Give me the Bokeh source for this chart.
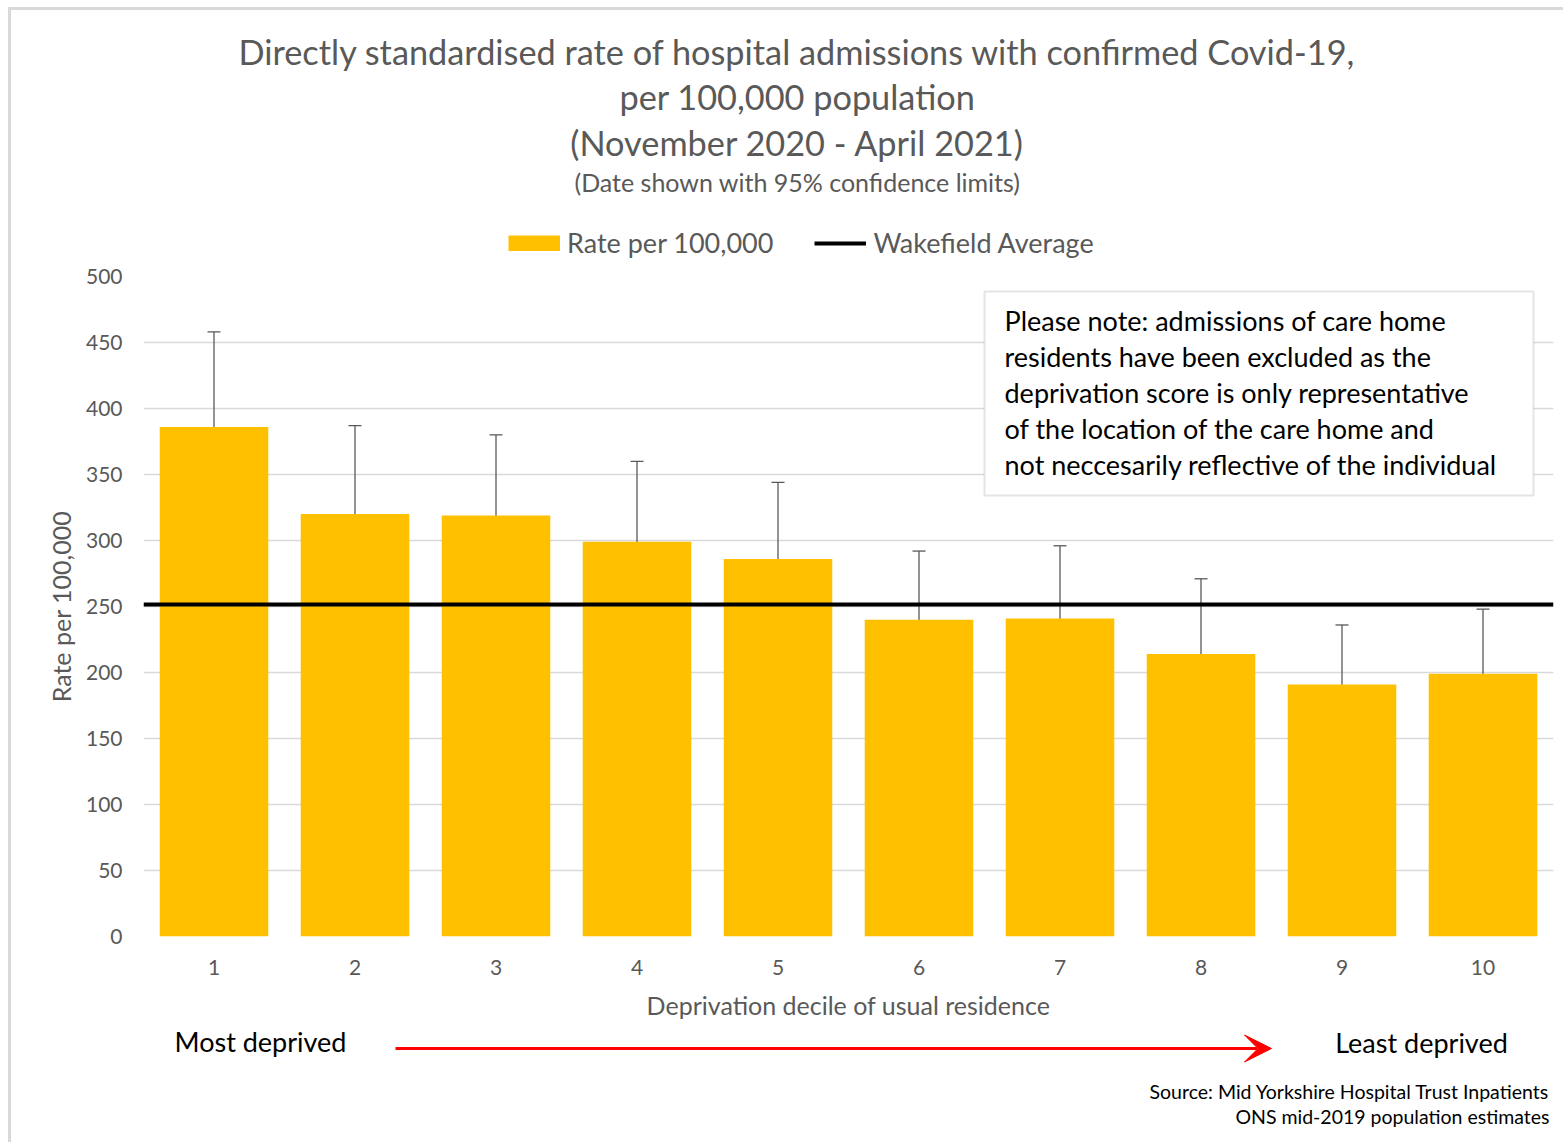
from bokeh.plotting import figure
from bokeh.layouts import column
from bokeh.models import (Range1d, FixedTicker, ColumnDataSource, Whisker, TeeHead,
                          BoxAnnotation, Label, Arrow, VeeHead, Legend, LegendItem)
from bokeh.embed import file_html
from bokeh.resources import INLINE

# ---------------- data ----------------
DECILES = [1, 2, 3, 4, 5, 6, 7, 8, 9, 10]
RATES = [386, 320, 319, 299, 286, 240, 241, 214, 191, 199]
UPPER_CL = [458, 387, 380, 360, 344, 292, 296, 271, 236, 248]
LOWER_CL = [323, 261, 264, 247, 235, 195, 195, 167, 154, 157]
WAKEFIELD_AVG = 251.5
Y_TICKS = [0, 50, 100, 150, 200, 250, 300, 350, 400, 450, 500]

TITLE_LINES = [
    "Directly standardised rate of hospital admissions with confirmed Covid-19,",
    "per 100,000 population",
    "(November 2020 - April 2021)",
    "(Date shown with 95% confidence limits)",
]
NOTE_LINES = [
    "Please note: admissions of care home",
    "residents have been excluded as the",
    "deprivation score is only representative",
    "of the location of the care home and",
    "not neccesarily reflective of the individual",
]
X_LABEL = "Deprivation decile of usual residence"
Y_LABEL = "Rate per 100,000"
LEGEND_LABELS = ["Rate per 100,000", "Wakefield Average"]
LEFT_NOTE = "Most deprived"
RIGHT_NOTE = "Least deprived"
SOURCE_LINES = ["Source: Mid Yorkshire Hospital Trust Inpatients",
                "ONS mid-2019 population estimates"]

# ---------------- style ----------------
FONT = "Lato"
GREY = "#595959"
BAR = "#FFC000"
GRID = "#d9d9d9"

# page-pixel layout
OX, OY = 11, 10                 # content origin (margin + 3px border)
W = 1552
FL, FR, FT, FB = 143, 1553, 276, 936   # plotting frame on the page
X0, X1, Y0, Y1 = 0.5, 10.5, 0, 500
HEAD_BOTTOM = 262
MAIN_BOTTOM = 1023
PAGE_BOTTOM = 1142
HH = HEAD_BOTTOM - OY
HM = MAIN_BOTTOM - HEAD_BOTTOM
HF = PAGE_BOTTOM - MAIN_BOTTOM
NAN = float("nan")


def dx(px):
    return X0 + (px - FL) / (FR - FL) * (X1 - X0)


def dy(py):
    return Y0 + (FB - py) / (FB - FT) * (Y1 - Y0)


def blank(height):
    f = figure(width=W, height=height, output_backend="svg", toolbar_location=None,
               x_range=Range1d(0, W), y_range=Range1d(height, 0),
               x_axis_location=None, y_axis_location=None, min_border=0,
               background_fill_color="white", border_fill_color="white")
    f.grid.visible = False
    f.outline_line_color = None
    f.frame_align = False
    return f


# ---------------- header: titles + legend ----------------
head = blank(HH)
title_specs = [(51, "34.3px"), (96, "34.3px"), (142, "34.3px"), (181, "25px")]
for line, (py, fs) in zip(TITLE_LINES, title_specs):
    head.add_layout(Label(x=797 - OX, y=py - OY, text=line, text_align="center",
                          text_baseline="middle", text_font=FONT,
                          text_font_size=fs, text_color=GREY))

# legend swatches (proxy renderers without visible data)
proxy_bar = head.line(x=[NAN, NAN], y=[NAN, NAN], line_color=BAR, line_width=16,
                      line_cap="butt")
proxy_line = head.line(x=[NAN, NAN], y=[NAN, NAN], line_color="black", line_width=4)
legend = Legend(items=[LegendItem(label=LEGEND_LABELS[0], renderers=[proxy_bar]),
                       LegendItem(label=LEGEND_LABELS[1], renderers=[proxy_line])],
                orientation="horizontal", location=(508 - OX, HEAD_BOTTOM - 259),
                label_text_font=FONT, label_text_font_size="27px",
                label_text_color=GREY, glyph_width=52, glyph_height=16,
                label_standoff=7, spacing=41, padding=0, margin=0,
                border_line_color=None, background_fill_alpha=0)
head.add_layout(legend, "center")

# ---------------- main chart ----------------
p = figure(width=W, height=HM, output_backend="svg", toolbar_location=None,
           x_range=Range1d(X0, X1), y_range=Range1d(Y0, Y1),
           min_border_left=FL - OX, min_border_top=FT - HEAD_BOTTOM,
           min_border_right=OX + W - FR, min_border_bottom=MAIN_BOTTOM - FB,
           background_fill_color="white", border_fill_color="white")
p.outline_line_color = None
p.frame_align = False

src = ColumnDataSource(dict(x=DECILES, rate=RATES, upper=UPPER_CL, lower=LOWER_CL))

bars = p.vbar(x="x", top="rate", width=0.77, source=src,
              fill_color=BAR, line_color=None)
avg = p.hspan(y=[WAKEFIELD_AVG], line_color="black", line_width=4)

whisk = Whisker(source=src, base="x", upper="upper", lower="lower",
                line_color=GREY, line_width=1.3,
                upper_head=TeeHead(size=13, line_color=GREY, line_width=1.3),
                lower_head=TeeHead(size=13, line_color=GREY, line_width=1.3))
p.add_layout(whisk)

p.xgrid.grid_line_color = None
p.ygrid.ticker = FixedTicker(ticks=Y_TICKS)
p.ygrid.grid_line_color = GRID
p.ygrid.grid_line_width = 1.3

for ax in (p.xaxis[0], p.yaxis[0]):
    ax.axis_line_color = None
    ax.major_tick_line_color = None
    ax.minor_tick_line_color = None
    ax.major_tick_out = 0
    ax.major_tick_in = 0
    ax.minor_tick_out = 0
    ax.major_label_text_font = FONT
    ax.major_label_text_font_size = "21px"
    ax.major_label_text_color = GREY
    ax.axis_label_text_font = FONT
    ax.axis_label_text_font_size = "25px"
    ax.axis_label_text_color = GREY
    ax.axis_label_text_font_style = "normal"

p.xaxis.ticker = FixedTicker(ticks=DECILES)
p.yaxis.ticker = FixedTicker(ticks=Y_TICKS)
p.xaxis.major_label_standoff = 23
p.yaxis.major_label_standoff = 21
p.xaxis.axis_label = X_LABEL
p.yaxis.axis_label = Y_LABEL
p.xaxis.axis_label_standoff = 12
p.yaxis.axis_label_standoff = 7

# note box
p.add_layout(BoxAnnotation(left=dx(984), right=dx(1533), top=dy(291), bottom=dy(495),
                           fill_color="white", fill_alpha=1.0,
                           line_color="#a6a6a6", line_width=2))
for i, line in enumerate(NOTE_LINES):
    p.add_layout(Label(x=dx(1004), y=dy(320 + 36 * i), text=line, text_align="left",
                       text_baseline="middle", text_font=FONT,
                       text_font_size="27px", text_color="black"))

# ---------------- footer ----------------
foot = blank(HF)
foot.add_layout(Label(x=260 - OX, y=1041 - MAIN_BOTTOM, text=LEFT_NOTE,
                      text_align="center", text_baseline="middle", text_font=FONT,
                      text_font_size="27px", text_color="black"))
foot.add_layout(Label(x=1421 - OX, y=1042 - MAIN_BOTTOM, text=RIGHT_NOTE,
                      text_align="center", text_baseline="middle", text_font=FONT,
                      text_font_size="27px", text_color="black"))
foot.add_layout(Arrow(x_start=395 - OX, y_start=1048 - MAIN_BOTTOM,
                      x_end=1271 - OX, y_end=1048 - MAIN_BOTTOM,
                      line_color="red", line_width=3,
                      end=VeeHead(size=27, fill_color="red", fill_alpha=1.0,
                                  line_color="red", line_width=1)))
foot.add_layout(Label(x=1549 - OX, y=1091 - MAIN_BOTTOM, text=SOURCE_LINES[0],
                      text_align="right", text_baseline="middle", text_font=FONT,
                      text_font_size="19.5px", text_color="black"))
foot.add_layout(Label(x=1549 - OX, y=1116 - MAIN_BOTTOM, text=SOURCE_LINES[1],
                      text_align="right", text_baseline="middle", text_font=FONT,
                      text_font_size="19.5px", text_color="black"))

layout = column(head, p, foot, spacing=0,
                styles={"margin-left": "8px", "margin-top": "7px",
                        "border-left": "3px solid #d9d9d9",
                        "border-top": "3px solid #d9d9d9"})

open("out.html", "w").write(file_html(layout, INLINE))
